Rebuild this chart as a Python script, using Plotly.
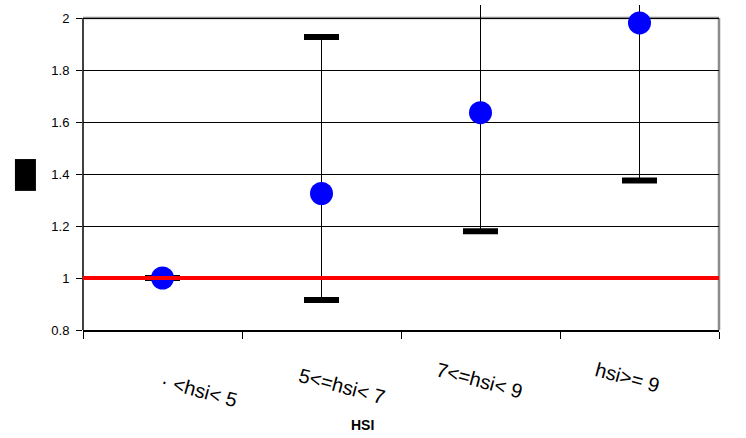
import plotly.graph_objects as go

# ---- data ----
categories = ["· <hsi< 5", "5<=hsi< 7", "7<=hsi< 9", "hsi>= 9"]
estimate = [1.0, 1.325, 1.636, 1.981]
upper = [1.0, 1.927, 2.30, 2.60]
lower = [1.0, 0.915, 1.180, 1.375]
y_tickvals = [0.8, 1.0, 1.2, 1.4, 1.6, 1.8, 2.0]
y_ticktext = ["0.8", "1", "1.2", "1.4", "1.6", "1.8", "2"]
reference_value = 1.0
x_title = "HSI"

FONT = "Liberation Sans, Arial, sans-serif"
NB = "\u00a0"
# leading padding to mimic the reference label placement
pad = [8, 4, 0, 0]
tick_display = [NB * p + c for p, c in zip(pad, categories)]

err_plus = [u - e for u, e in zip(upper, estimate)]
err_minus = [e - l for e, l in zip(estimate, lower)]

fig = go.Figure()

# caps (drawn first, under the dots)
fig.add_trace(go.Scatter(
    x=categories + categories,
    y=lower + upper,
    mode="markers",
    marker=dict(symbol="line-ew-open", size=25, color="black",
                line=dict(color="black", width=6)),
    hoverinfo="skip", showlegend=False,
))

# estimates with error stems
fig.add_trace(go.Scatter(
    x=categories,
    y=estimate,
    mode="markers",
    marker=dict(symbol="circle", size=23, color="#0000FF",
                line=dict(width=0)),
    error_y=dict(type="data", symmetric=False, array=err_plus,
                 arrayminus=err_minus, color="black", thickness=1, width=0),
    showlegend=False,
))

y_lo, y_hi = y_tickvals[0], y_tickvals[-1]

shapes = [
    # left axis line
    dict(type="line", xref="paper", yref="y", x0=0, x1=0, y0=y_lo, y1=y_hi,
         line=dict(color="black", width=1.5), layer="between"),
    # top border
    dict(type="line", xref="paper", yref="y", x0=0, x1=1, y0=y_hi, y1=y_hi,
         line=dict(color="#8c8c8c", width=2.5), layer="between"),
    # right border
    dict(type="line", xref="paper", yref="y", x0=1, x1=1, y0=y_lo, y1=y_hi,
         line=dict(color="#8c8c8c", width=2.5), layer="between"),
    # reference line
    dict(type="line", xref="paper", yref="y", x0=0, x1=1,
         y0=reference_value, y1=reference_value,
         line=dict(color="#FF0000", width=4), layer="above"),
    # black box (unrendered y-axis title glyph)
    dict(type="rect", xref="paper", yref="paper", x0=-0.107, x1=-0.074,
         y0=0.428, y1=0.526, fillcolor="black", line=dict(width=0)),
]

fig.update_layout(
    width=746, height=438,
    margin=dict(l=83, r=27, t=5, b=108),
    paper_bgcolor="white", plot_bgcolor="white",
    font=dict(family=FONT, color="black"),
    showlegend=False,
    shapes=shapes,
    annotations=[dict(text="<b>" + x_title + "</b>", xref="paper", yref="paper",
                      x=0.44, y=-0.292, xanchor="center", yanchor="middle",
                      showarrow=False, font=dict(size=14, family=FONT, color="black"))],
    xaxis=dict(
        type="category", categoryorder="array", categoryarray=categories,
        range=[-0.5, len(categories) - 0.5],
        tickvals=categories, ticktext=tick_display,
        showline=True, linecolor="black", linewidth=2,
        ticks="outside", tickson="boundaries", ticklen=7, tickcolor="black",
        tickwidth=1,
        tickangle=15, ticklabelstandoff=20, ticklabelshift=-43,
        tickfont=dict(size=20, family=FONT, color="black"),
        showgrid=False, zeroline=False,
    ),
    yaxis=dict(
        range=[0.8, 2.05],
        tickvals=y_tickvals, ticktext=y_ticktext,
        ticks="outside", ticklen=6, tickcolor="black", tickwidth=1,
        ticklabelstandoff=4,
        tickfont=dict(size=13, family=FONT, color="black"),
        showgrid=True, gridcolor="black", gridwidth=1,
        showline=False, zeroline=False,
    ),
)

fig.write_html("out.html",
               config={"displayModeBar": False},
               post_script="document.body.style.margin='0';document.body.style.padding='0';")
